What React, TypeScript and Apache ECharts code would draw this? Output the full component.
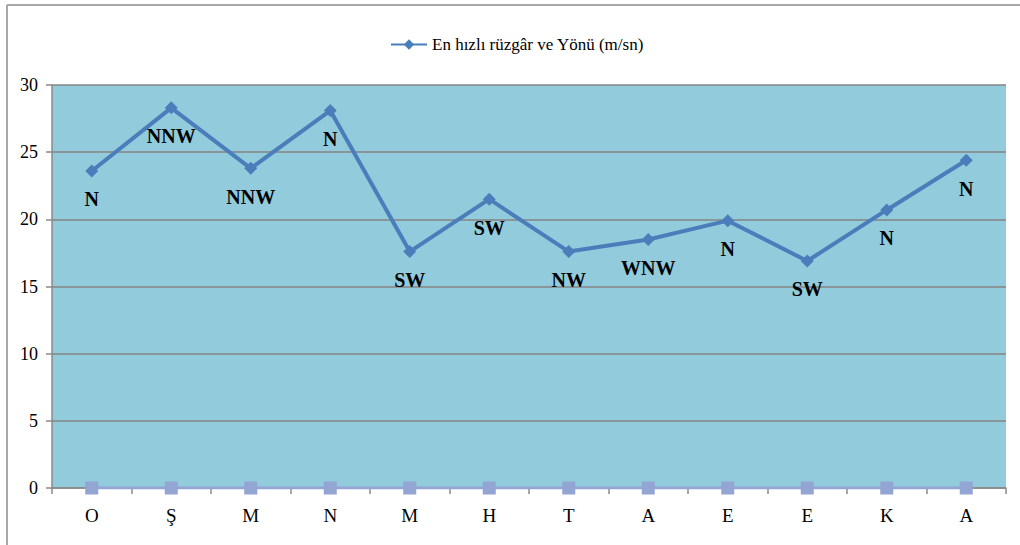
import React, { useEffect, useRef } from "react";
import * as echarts from "echarts";

const months = ["O", "Ş", "M", "N", "M", "H", "T", "A", "E", "E", "K", "A"];
const speeds = [23.6, 28.3, 23.8, 28.1, 17.6, 21.5, 17.6, 18.5, 19.9, 16.9, 20.7, 24.4];
const directions = ["N", "NNW", "NNW", "N", "SW", "SW", "NW", "WNW", "N", "SW", "N", "N"];
const baseline = [0, 0, 0, 0, 0, 0, 0, 0, 0, 0, 0, 0];
const yTicks = { min: 0, max: 30, interval: 5 };
const seriesName = "En hızlı rüzgâr ve Yönü (m/sn)";

export default function App() {
  const ref = useRef<HTMLDivElement>(null);
  useEffect(() => {
    document.body.style.margin = "0";
    const chart = echarts.init(ref.current!, null, { renderer: "svg" });
    const serif = "Liberation Serif";
    chart.setOption({
      animation: false,
      backgroundColor: "#ffffff",
      textStyle: { fontFamily: serif },
      graphic: [
        { type: "line", shape: { x1: 7, y1: 5, x2: 1020, y2: 5 }, style: { stroke: "#A8A8A8", lineWidth: 2 } },
        { type: "line", shape: { x1: 7, y1: 5, x2: 7, y2: 545 }, style: { stroke: "#A8A8A8", lineWidth: 2 } },
      ],
      legend: {
        data: [seriesName],
        left: 385,
        top: 31,
        itemWidth: 36,
        itemHeight: 13,
        itemGap: 5,
        textStyle: { fontFamily: serif, fontSize: 17, color: "#000" },
      },
      grid: { left: 52, right: 14, top: 85, bottom: 57, show: true, backgroundColor: "#92CBDC", borderWidth: 0 },
      xAxis: {
        type: "category",
        data: months,
        boundaryGap: true,
        axisLine: { lineStyle: { color: "#8A8A8A", width: 1.5 } },
        axisTick: { show: true, length: 6, lineStyle: { color: "#8A8A8A", width: 1.5 } },
        axisLabel: { fontFamily: serif, fontSize: 19, color: "#000", margin: 18 },
      },
      yAxis: {
        type: "value",
        min: yTicks.min,
        max: yTicks.max,
        interval: yTicks.interval,
        axisLine: { show: true, lineStyle: { color: "#8A8A8A", width: 1.5 } },
        axisTick: { show: true, length: 6, lineStyle: { color: "#8A8A8A", width: 1.5 } },
        axisLabel: { fontFamily: serif, fontSize: 18, color: "#000", margin: 14 },
        splitLine: { lineStyle: { color: "#858585", width: 1.5 } },
      },
      series: [
        {
          name: "zero",
          type: "line",
          data: baseline,
          symbol: "rect",
          symbolSize: 13,
          itemStyle: { color: "#93A5D2" },
          lineStyle: { color: "#93A5D2", width: 3 },
          z: 3,
        },
        {
          name: seriesName,
          type: "line",
          data: speeds,
          symbol: "diamond",
          symbolSize: 13,
          itemStyle: { color: "#4A7EBB" },
          lineStyle: { color: "#4A7EBB", width: 4 },
          label: {
            show: true,
            position: "bottom",
            distance: 12,
            fontFamily: serif,
            fontWeight: "bold",
            fontSize: 20,
            color: "#000",
            formatter: (p: any) => directions[p.dataIndex],
          },
          z: 4,
        },
      ],
    });
    return () => chart.dispose();
  }, []);
  return <div ref={ref} style={{ width: 1020, height: 545 }} />;
}
